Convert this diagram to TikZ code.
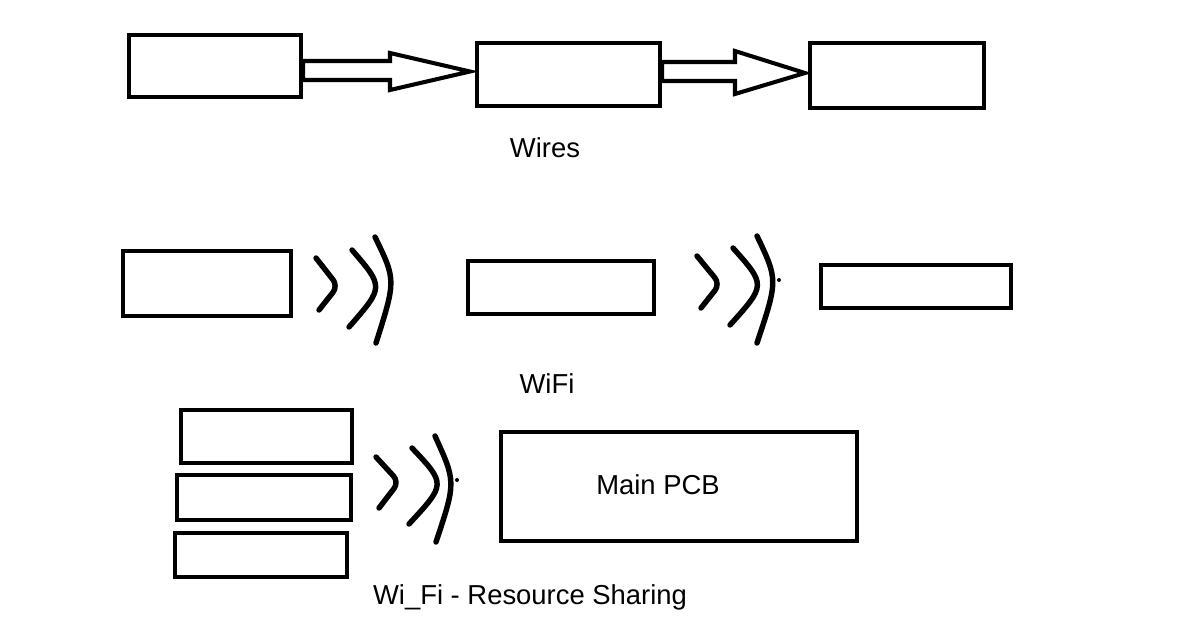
\documentclass[tikz,border=0pt]{standalone}
\usepackage{fontspec}
\setmainfont{Liberation Sans}
\usetikzlibrary{calc}
\begin{document}
\begin{tikzpicture}[x=0.02cm,y=-0.02cm,
  box/.style={draw=black,line width=2.3pt,inner sep=0pt,fill=white},
  blockarrow/.style={draw=black,line width=2.3pt,line join=miter,fill=white},
  wave/.style={draw=black,line width=3.1pt,line cap=round},
  lbl/.style={inner sep=0pt,font=\fontsize{15.6}{18}\selectfont}]
\useasboundingbox[fill=white] (0,0) rectangle (1188,623);
% row 1 : wires
\node[box,minimum width=3.44cm,minimum height=1.24cm] (A) at (215,66) {};
\node[box,minimum width=3.66cm,minimum height=1.26cm] (B) at (568.5,74.5) {};
\node[box,minimum width=3.48cm,minimum height=1.30cm] (C) at (897,75.5) {};
\draw[blockarrow] ($(A.east)+(0,-5)$) -- (390,61) -- (390,53) -- ($(B.west)+(-5,-3)$) -- (390,90) -- (390,80) -- ($(A.east)+(0,14)$) -- cycle;
\draw[blockarrow] ($(B.east)+(0,-12.5)$) -- (735,62) -- (735,51) -- ($(C.west)+(-3,-2.5)$) -- (735,94) -- (735,81) -- ($(B.east)+(0,6.5)$) -- cycle;
\node[lbl] (wires) at (545,148) {Wires};
% row 2 : wifi
\node[box,minimum width=3.36cm,minimum height=1.30cm] (D) at (207,283.5) {};
\node[box,minimum width=3.72cm,minimum height=1.06cm] (E) at (561,287.5) {};
\node[box,minimum width=3.80cm,minimum height=0.86cm] (F) at (916,286.5) {};
\draw[wave,rounded corners=0.16cm] (316,258) -- (338,286) -- (319,310);
\draw[wave] (352,250) .. controls (384,287) .. (349,327);
\draw[wave] (375,237) .. controls (396,280) .. (376,343);
\draw[wave,rounded corners=0.16cm] (697,256) -- (720,284) -- (701,308);
\draw[wave] (733,248) .. controls (766,285) .. (730,325);
\draw[wave] (757,236) .. controls (778,280) .. (757,343);
\fill (779,280) circle (0.04cm);
\node[lbl] (wifi) at (547,384) {WiFi};
% row 3 : resource sharing
\node[box,minimum width=3.42cm,minimum height=1.06cm] (G) at (266.5,436.5) {};
\node[box,minimum width=3.48cm,minimum height=0.90cm] (H) at (264,497.5) {};
\node[box,minimum width=3.44cm,minimum height=0.88cm] (I) at (261,555) {};
\node[box,minimum width=7.12cm,minimum height=2.18cm] (J) at (679,486.5) {};
\node[lbl] (pcb) at (658,485) {Main PCB};
\draw[wave,rounded corners=0.16cm] (376,457) -- (399,482) -- (379,508);
\draw[wave] (412,448) .. controls (446,484) .. (409,524);
\draw[wave] (435,436) .. controls (456,482) .. (436,542);
\fill (457,480) circle (0.04cm);
\node[lbl] (share) at (530,597) {Wi\_Fi - Resource Sharing};
\end{tikzpicture}
\end{document}
